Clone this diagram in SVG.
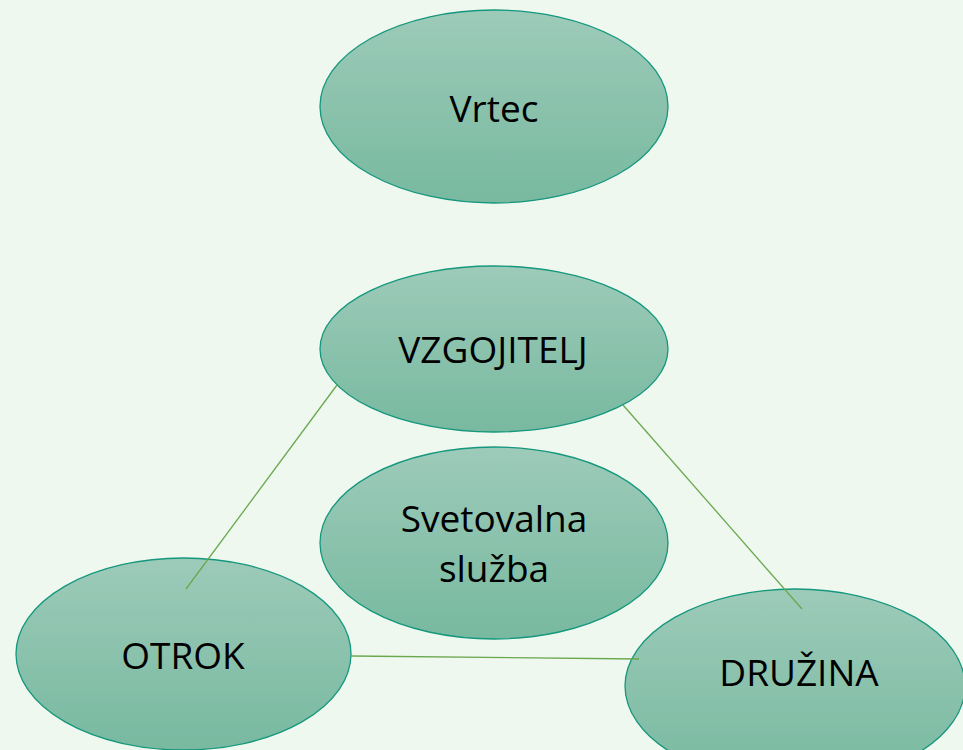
<svg xmlns="http://www.w3.org/2000/svg" width="963" height="750" viewBox="0 0 963 750">
<defs>
<linearGradient id="g" x1="0" y1="0" x2="0" y2="1">
<stop offset="0" stop-color="#9dcbb9"/>
<stop offset="1" stop-color="#78b9a0"/>
</linearGradient>
<style>
.n{fill:url(#g);stroke:#15977d;stroke-width:1.3}
.t{font-family:"Open Sans","Liberation Sans",sans-serif;font-size:37px;fill:#000;text-anchor:middle}
.c{stroke:#6aa84f;stroke-width:1.3;fill:none}
</style>
</defs>
<rect width="963" height="750" fill="#eef8ee"/>
<g id="vrtec"><ellipse class="n" cx="494" cy="106.5" rx="174" ry="96.5"/><text class="t" x="494" y="122">Vrtec</text></g>
<g id="vzgojitelj"><ellipse class="n" cx="494" cy="349" rx="174" ry="83"/><text class="t" x="493" y="363">VZGOJITELJ</text></g>
<g id="svetovalna"><ellipse class="n" cx="494" cy="543" rx="174" ry="96"/><text class="t" x="494" y="532">Svetovalna</text><text class="t" x="494" y="582">služba</text></g>
<g id="otrok"><ellipse class="n" cx="183.5" cy="654" rx="167.5" ry="96"/><text class="t" x="183" y="669">OTROK</text></g>
<g id="druzina"><ellipse class="n" cx="795" cy="686" rx="170" ry="97"/><text class="t" x="799" y="686">DRUŽINA</text></g>
<g id="connectors">
<line class="c" x1="337" y1="385" x2="186" y2="589"/>
<line class="c" x1="623" y1="405" x2="802" y2="609"/>
<line class="c" x1="351" y1="656" x2="639" y2="659"/>
</g>
</svg>
